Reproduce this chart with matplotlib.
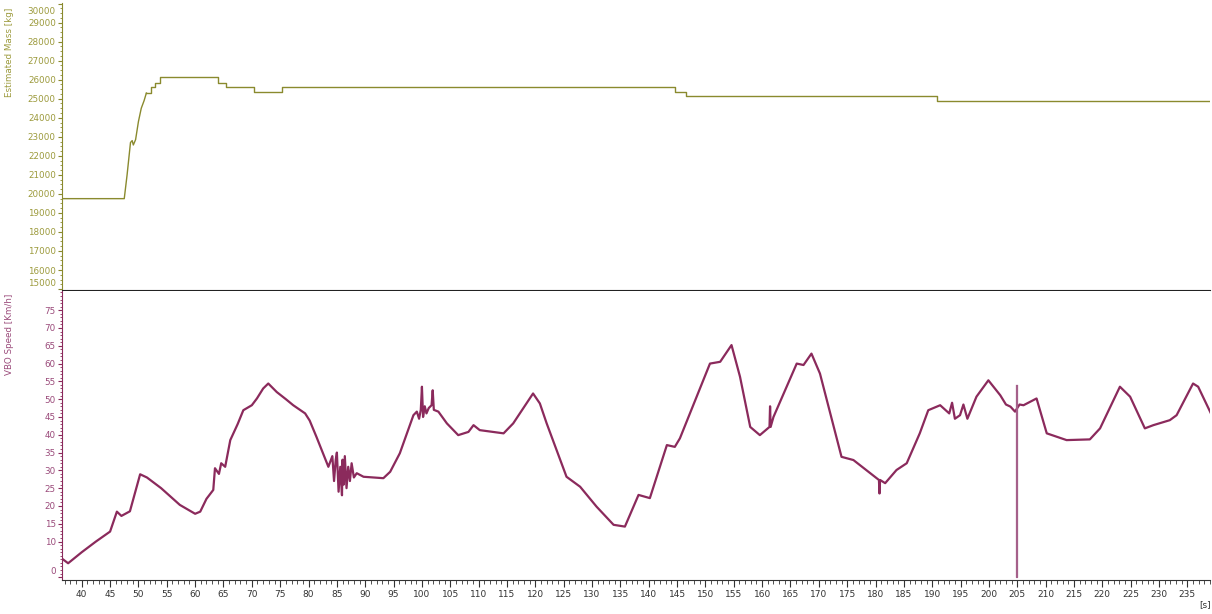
import matplotlib.pyplot as plt
from matplotlib.ticker import MultipleLocator, FixedLocator
from matplotlib.transforms import ScaledTranslation

# estimated mass: ramp while loading, then step levels
ramp_t = [36.5, 47.5, 48.0, 48.6, 48.9, 49.1, 49.5, 50.0, 50.5, 51.0, 51.4]
ramp_kg = [19750, 19750, 21000, 22700, 22800, 22570, 22850, 23800, 24500, 24900, 25300]
step_t = [51.4, 52.3, 53.0, 53.8, 64.1, 65.5, 70.3, 75.3, 144.6, 146.6, 190.8, 239.0]
step_kg = [25300, 25640, 25850, 26130, 25850, 25640, 25330, 25640, 25330, 25150, 24860, 24860]

# VBO speed trace
speed_t = [36.6, 37.6, 40.0, 42.5, 45.0, 46.2, 47.0, 47.9, 48.5, 50.3, 51.5, 54.0,
           57.3, 60.0, 60.9, 62.0, 63.2, 63.5, 64.2, 64.6, 65.3, 66.2, 67.5, 68.5,
           70.0, 70.9, 72.0, 72.9, 74.4, 76.0, 77.3, 79.4, 80.2, 81.4, 83.5, 84.2,
           84.5, 84.8, 85.0, 85.3, 85.6, 85.9, 86.0, 86.2, 86.4, 86.7, 87.0, 87.3,
           87.6, 88.0, 88.5, 89.7, 93.2, 94.4, 96.1, 98.5, 99.1, 99.5, 99.8, 100.0,
           100.2, 100.5, 100.8, 101.2, 101.7, 101.9, 102.1, 102.9, 104.4, 106.4,
           108.2, 109.1, 110.2, 114.4, 116.1, 119.6, 120.8, 122.0, 125.5, 127.9,
           130.8, 133.8, 135.8, 138.2, 140.2, 143.2, 144.6, 145.5, 150.8, 152.6,
           154.6, 156.1, 157.9, 159.6, 161.3, 161.4, 161.5, 162.0, 166.1, 167.3,
           168.7, 170.2, 174.0, 176.1, 180.6, 180.7, 180.8, 181.7, 183.7, 185.5,
           187.8, 189.3, 191.4, 193.0, 193.5, 194.0, 194.9, 195.5, 196.2, 197.8,
           199.9, 202.0, 203.0, 203.8, 204.6, 205.4, 206.1, 208.4, 210.2, 213.7,
           217.8, 219.6, 223.1, 224.9, 227.5, 229.0, 231.9, 233.1, 236.0, 236.9,
           239.3]
speed_kmh = [5.1, 3.9, 7.0, 10.0, 12.8, 18.4, 17.2, 18.0, 18.5, 28.9, 28.0, 25.0,
             20.3, 17.8, 18.4, 22.0, 24.5, 30.6, 29.0, 32.0, 31.0, 38.5, 43.0, 46.9,
             48.3, 50.2, 53.0, 54.4, 52.0, 50.0, 48.3, 46.0, 44.0, 39.4, 31.0, 34.0,
             27.0, 33.0, 35.0, 24.0, 31.0, 23.0, 33.0, 26.0, 34.0, 25.0, 31.0, 27.0,
             32.0, 28.0, 29.2, 28.2, 27.8, 29.6, 34.8, 45.5, 46.5, 44.5, 47.0, 53.5,
             45.0, 48.0, 46.0, 47.5, 48.3, 52.5, 47.0, 46.5, 43.2, 39.9, 40.8, 42.7,
             41.3, 40.4, 43.2, 51.6, 48.8, 43.2, 28.2, 25.4, 19.8, 14.7, 14.2, 23.1,
             22.2, 37.1, 36.6, 39.0, 60.0, 60.5, 65.2, 56.3, 42.2, 39.9, 42.2, 48.0,
             42.2, 45.0, 60.0, 59.6, 62.8, 57.2, 33.8, 32.9, 27.3, 23.5, 27.3, 26.4,
             30.1, 32.0, 40.4, 46.9, 48.3, 46.0, 49.0, 44.5, 45.5, 48.5, 44.5, 50.7,
             55.3, 51.1, 48.5, 47.9, 46.5, 48.5, 48.3, 50.2, 40.4, 38.5, 38.7, 41.8,
             53.5, 50.7, 41.8, 42.7, 44.1, 45.5, 54.4, 53.5, 45.5]

# dropout spike near 205 s
spike_t = [204.7, 204.7, 204.9, 204.9]
spike_kmh = [54.0, 0.0, 0.0, 54.0]

mass_ticks = list(range(15000, 30001, 1000))
speed_ticks = [0] + list(range(10, 76, 5))
time_ticks = list(range(40, 236, 5))

olive = "#8a8a2e"
olive_txt = "#9c9a3c"
purple = "#8b2a5c"
purple_txt = "#9a4a7a"

fig = plt.figure(figsize=(12.12, 6.14), dpi=100)
ax1 = fig.add_axes([0.0512, 0.5277, 0.9472, 0.4674])
ax2 = fig.add_axes([0.0512, 0.0554, 0.9472, 0.4707], sharex=ax1)

ax1.plot(ramp_t, ramp_kg, color=olive, linewidth=1.0)
ax1.step(step_t, step_kg, where="post", color=olive, linewidth=1.0)
ax2.plot(speed_t, speed_kmh, color=purple, linewidth=1.6)
ax2.plot(spike_t, spike_kmh, color="#a5608a", linewidth=0.9)

ax1.set_xlim(36.53, 239.0)
ax1.set_ylim(14950, 30030)
ax2.set_ylim(-0.8, 80.4)

for ax in (ax1, ax2):
    ax.spines["top"].set_visible(False)
    ax.spines["right"].set_visible(False)
ax1.spines["left"].set_color(olive)
ax1.spines["bottom"].set_color("#222222")
ax2.spines["left"].set_color(purple)
ax2.spines["bottom"].set_color("#333333")

ax1.yaxis.set_major_locator(FixedLocator(mass_ticks))
ax1.yaxis.set_minor_locator(MultipleLocator(250))
ax1.tick_params(axis="y", which="major", length=3, colors=olive, labelcolor=olive_txt, labelsize=6.3, pad=1.5)
ax1.tick_params(axis="y", which="minor", length=1.5, colors=olive)
ax1.tick_params(axis="x", which="both", bottom=False, labelbottom=False)

ax2.yaxis.set_major_locator(FixedLocator(speed_ticks))
ax2.yaxis.set_minor_locator(MultipleLocator(1))
ax2.tick_params(axis="y", which="major", length=3, colors=purple, labelcolor=purple_txt, labelsize=6.3, pad=1.5)
ax2.tick_params(axis="y", which="minor", length=1.5, colors=purple)
ax2.xaxis.set_major_locator(FixedLocator(time_ticks))
ax2.xaxis.set_minor_locator(MultipleLocator(1))
ax2.tick_params(axis="x", which="major", length=5, colors="#333333", labelsize=6.5, pad=2)
ax2.tick_params(axis="x", which="minor", length=3, colors="#333333")

# end labels nudged inward like the original
for lab, val in zip(ax1.get_yticklabels(), mass_ticks):
    if val == 30000:
        lab.set_transform(lab.get_transform() + ScaledTranslation(0, -5 / 72, fig.dpi_scale_trans))
    if val == 15000:
        lab.set_transform(lab.get_transform() + ScaledTranslation(0, 5 / 72, fig.dpi_scale_trans))
for lab, val in zip(ax2.get_yticklabels(), speed_ticks):
    if val == 0:
        lab.set_transform(lab.get_transform() + ScaledTranslation(0, 5 / 72, fig.dpi_scale_trans))

fig.text(10 / 1212, 1 - 8 / 614, "Estimated Mass [kg]", rotation=90, ha="center", va="top",
         color=olive_txt, fontsize=6.3)
fig.text(10 / 1212, 1 - 294 / 614, "VBO Speed [Km/h]", rotation=90, ha="center", va="top",
         color=purple_txt, fontsize=6.3)
fig.text(1205 / 1212, 1 - 605 / 614, "[s]", ha="center", va="center", color="#333333", fontsize=6.5)

fig.savefig("out.png", dpi=100)
